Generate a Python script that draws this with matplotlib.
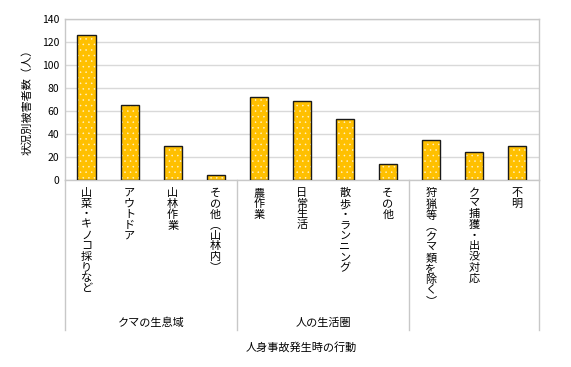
import matplotlib
matplotlib.use('Agg')
import matplotlib.pyplot as plt
import numpy as np

plt.rcParams['font.family'] = ['Noto Sans CJK JP', 'DejaVu Sans']
plt.rcParams['hatch.linewidth'] = 0.35

# Data
activities = ['山菜・キノコ採りなど', 'アウトドア', '山林作業', 'その他︵山林内︶',
              '農作業', '日常生活', '散歩・ランニング', 'その他',
              '狩猟等︵クマ類を除く︶', 'クマ捕獲・出没対応', '不明']
victims = [126, 65, 30, 4, 72, 69, 53, 14, 35, 24, 30]
groups = ['クマの生息域', '人の生活圏', '']
group_sizes = [4, 4, 3]

fig = plt.figure(figsize=(5.71, 3.67), dpi=100)
ax = fig.add_axes([0.1138, 0.5095, 0.8296, 0.4385])

x = np.arange(len(victims))
gold = '#FFC000'
# fill with white dot pattern, then outline
ax.bar(x, victims, width=0.42, color=gold, edgecolor='#fff3cc', hatch='...', linewidth=0, zorder=2)
ax.bar(x, victims, width=0.42, fill=False, edgecolor='#1a1a1a', linewidth=1.0, zorder=3)

ax.set_xlim(-0.5, len(victims) - 0.5)
ax.set_ylim(0, 140)
ax.set_yticks(range(0, 141, 20))
ax.tick_params(axis='y', length=0, labelsize=7.5, pad=4)
ax.set_xticks([])
ax.grid(axis='y', color='#d9d9d9', linewidth=1.0, zorder=0)
ax.set_axisbelow(True)
for s in ax.spines.values():
    s.set_color('#c8c8c8')
    s.set_linewidth(1.0)
ax.set_ylabel('状況別被害者数（人）', fontsize=8, labelpad=7)

# vertical category labels (stacked characters)
tr = ax.get_xaxis_transform()
for xi, name in zip(x, activities):
    ax.text(xi, -0.05, '\n'.join(name), transform=tr, ha='center', va='top',
            fontsize=8, linespacing=1.08, clip_on=False)

# group separators and group labels
bounds = np.concatenate([[0], np.cumsum(group_sizes)]) - 0.5
for b in bounds:
    ax.plot([b, b], [0, -0.932], transform=tr, color='#c8c8c8', linewidth=1.0, clip_on=False)
for i, g in enumerate(groups):
    if g:
        ax.text((bounds[i] + bounds[i + 1]) / 2, -0.888, g, transform=tr,
                ha='center', va='center', fontsize=8, clip_on=False)

fig.text(0.5285, 1 - 347 / 367, '人身事故発生時の行動', ha='center', va='center', fontsize=8)

fig.savefig('out.png', dpi=100)
